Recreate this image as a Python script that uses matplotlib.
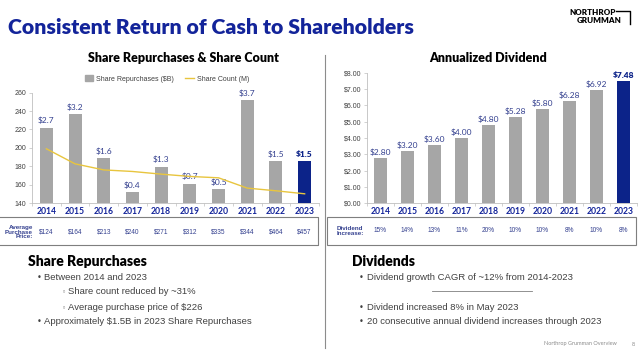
import matplotlib
matplotlib.use("Agg")
import matplotlib.pyplot as plt
from matplotlib.lines import Line2D
from matplotlib.patches import Rectangle, Patch
from matplotlib.transforms import blended_transform_factory

years = ["2014", "2015", "2016", "2017", "2018", "2019", "2020", "2021", "2022", "2023"]
repurchases = [2.7, 3.2, 1.6, 0.4, 1.3, 0.7, 0.5, 3.7, 1.5, 1.5]
share_count = [199, 182.6, 176, 174.3, 171.4, 168.9, 167.4, 156.2, 153.3, 150]
avg_price = ["$124", "$164", "$213", "$240", "$271", "$312", "$335", "$344", "$464", "$457"]
dividend = [2.80, 3.20, 3.60, 4.00, 4.80, 5.28, 5.80, 6.28, 6.92, 7.48]
div_increase = ["15%", "14%", "13%", "11%", "20%", "10%", "10%", "8%", "10%", "8%"]

NAVY = "#13249a"
BARNAVY = "#0c2389"
GRAY = "#a6a6a6"
YELLOW = "#e8c53e"
LBL = "#34408f"
TXT = "#404040"
HEAD = "Lato"
BODY = "Liberation Sans"

W, H = 640, 358
fig = plt.figure(figsize=(6.4, 3.58), dpi=100)


def fx(x):
    return x / W


def fy(y):
    return 1 - y / H


def add_ax(x0, y0, x1, y1):
    return fig.add_axes([fx(x0), fy(y1), fx(x1 - x0), (y1 - y0) / H])


def style(ax):
    for s in ["top", "right"]:
        ax.spines[s].set_visible(False)
    ax.spines["left"].set_color("#bfbfbf")
    ax.spines["bottom"].set_color("#bfbfbf")
    ax.spines["left"].set_linewidth(0.6)
    ax.spines["bottom"].set_linewidth(0.6)
    ax.tick_params(axis="y", labelsize=5, colors="#bfbfbf", labelcolor=TXT, length=2, width=0.5, pad=2)
    ax.set_xticks(range(len(years)))
    ax.set_xticklabels(years, fontsize=6.2, fontweight="bold", color=NAVY, family=HEAD)
    ax.tick_params(axis="x", length=0, pad=3)
    ax.set_xticks([i + 0.5 for i in range(-1, len(years))], minor=True)
    ax.tick_params(axis="x", which="minor", length=2.5, width=0.5, color="#bfbfbf")
    ax.set_xlim(-0.5, len(years) - 0.5)
    for lab in ax.get_yticklabels():
        lab.set_family(BODY)


# ---- title + logo
fig.text(fx(8), fy(27), "Consistent Return of Cash to Shareholders", fontsize=15.3,
         fontweight="heavy", color=NAVY, family=HEAD, va="center", ha="left")
fig.text(fx(616), fy(12.5), "NORTHROP", fontsize=5.8, fontweight="heavy", family=HEAD, ha="right", va="center")
fig.text(fx(622), fy(20.5), "GRUMMAN", fontsize=5.8, fontweight="heavy", family=HEAD, ha="right", va="center")
fig.add_artist(Line2D([fx(616), fx(630), fx(630)], [fy(10.5), fy(10.5), fy(24)], color="black", lw=1.0))

# ---- left chart
axL = add_ax(32, 92.7, 319, 203)
style(axL)
axL.set_ylim(140, 260)
axL.set_yticks(range(140, 261, 20))
axB = axL.twinx()
axB.set_ylim(0, 3.96)
axB.axis("off")
colsL = [GRAY] * 9 + [BARNAVY]
axB.bar(range(len(years)), repurchases, width=0.45, color=colsL, zorder=1)
for i, v in enumerate(repurchases):
    axB.text(i, v + 0.12, f"${v:.1f}", ha="center", va="bottom", fontsize=6,
             family=HEAD, color=BARNAVY if i == 9 else LBL,
             fontweight="heavy" if i == 9 else "normal")
axB.plot(range(len(years)), [(s - 140) * 3.96 / 120 for s in share_count],
         color=YELLOW, lw=1.0, zorder=3)
fig.legend([Patch(color=GRAY), Line2D([], [], color=YELLOW, lw=1.0)],
           ["Share Repurchases ($B)", "Share Count (M)"], ncol=2, frameon=False,
           loc="center", bbox_to_anchor=(fx(167), fy(79)),
           prop={"family": BODY, "size": 5}, handlelength=1.2, handleheight=0.9,
           columnspacing=1.6, handletextpad=0.5, labelcolor=TXT)
fig.text(fx(183), fy(58), "Share Repurchases & Share Count", fontsize=9, fontweight="heavy",
         family=HEAD, ha="center", va="center")

# left table
trL = blended_transform_factory(axL.transData, fig.transFigure)
for i, p in enumerate(avg_price):
    axL.text(i, fy(232), p, transform=trL, ha="center", va="center", fontsize=4.7,
             family=BODY, color=LBL)
fig.text(fx(33), fy(232), "Average\nPurchase\nPrice:", ha="right", va="center", fontsize=4.5,
         fontweight="bold", family=BODY, color=LBL, linespacing=0.95)
fig.add_artist(Line2D([0, fx(318), fx(318), 0], [fy(217), fy(217), fy(245), fy(245)],
                      color="#7f7f7f", lw=0.8))

# ---- right chart
axR = add_ax(367, 72.7, 637, 203.3)
style(axR)
axR.set_ylim(0, 8)
axR.set_yticks(range(0, 9))
axR.set_yticklabels([f"${v:.2f}" for v in range(0, 9)])
for lab in axR.get_yticklabels():
    lab.set_family(BODY)
colsR = [GRAY] * 9 + [BARNAVY]
axR.bar(range(len(years)), dividend, width=0.49, color=colsR)
for i, v in enumerate(dividend):
    axR.text(i, v + 0.12, f"${v:.2f}", ha="center", va="bottom", fontsize=6,
             family=HEAD, color=BARNAVY if i == 9 else LBL,
             fontweight="heavy" if i == 9 else "normal")
fig.text(fx(488), fy(58), "Annualized Dividend", fontsize=9, fontweight="heavy",
         family=HEAD, ha="center", va="center")

trR = blended_transform_factory(axR.transData, fig.transFigure)
for i, p in enumerate(div_increase):
    axR.text(i, fy(231), p, transform=trR, ha="center", va="center", fontsize=4.7,
             family=BODY, color=LBL)
fig.text(fx(350), fy(231), "Dividend\nIncrease:", ha="center", va="center", fontsize=4.5,
         fontweight="bold", family=BODY, color=LBL, linespacing=0.95)
fig.add_artist(Rectangle((fx(327), fy(245)), fx(309), (245 - 217) / H, fill=False,
                         edgecolor="#7f7f7f", lw=0.8, transform=fig.transFigure))

# separator
fig.add_artist(Line2D([fx(324.5), fx(324.5)], [fy(55), fy(348)], color="#8c8c8c", lw=0.8))

# ---- bottom text
fig.text(fx(28), fy(261), "Share Repurchases", fontsize=10, fontweight="heavy",
         family=HEAD, va="center")
fig.text(fx(352), fy(262), "Dividends", fontsize=10, fontweight="heavy",
         family=HEAD, va="center")

left_items = [(37, 44, 277, "•", "Between 2014 and 2023"),
              (62, 68, 292, "◦", "Share count reduced by ~31%"),
              (62, 68, 308, "◦", "Average purchase price of $226"),
              (37, 44, 322, "•", "Approximately $1.5B in 2023 Share Repurchases")]
right_items = [(359, 367, 277, "•", "Dividend growth CAGR of ~12% from 2014-2023"),
               (359, 367, 308, "•", "Dividend increased 8% in May 2023"),
               (359, 367, 322, "•", "20 consecutive annual dividend increases through 2023")]
for bx, tx, y, m, t in left_items + right_items:
    fig.text(fx(bx), fy(y), m, fontsize=6 if m == "•" else 5, color="#7f7f7f" if m == "◦" else TXT,
             family="DejaVu Sans", va="center")
    fig.text(fx(tx), fy(y), t, fontsize=6.8, color=TXT, family=BODY, va="center")
fig.add_artist(Line2D([fx(432), fx(532)], [fy(291), fy(291)], color="#7f7f7f", lw=0.6))

fig.text(fx(617), fy(344), "Northrop Grumman Overview", fontsize=4, color="#8c8c8c",
         family=HEAD, ha="right", va="center")
fig.text(fx(633), fy(344), "8", fontsize=4, color="#8c8c8c", family=HEAD, ha="center", va="center")

fig.savefig("out.png", dpi=100)
